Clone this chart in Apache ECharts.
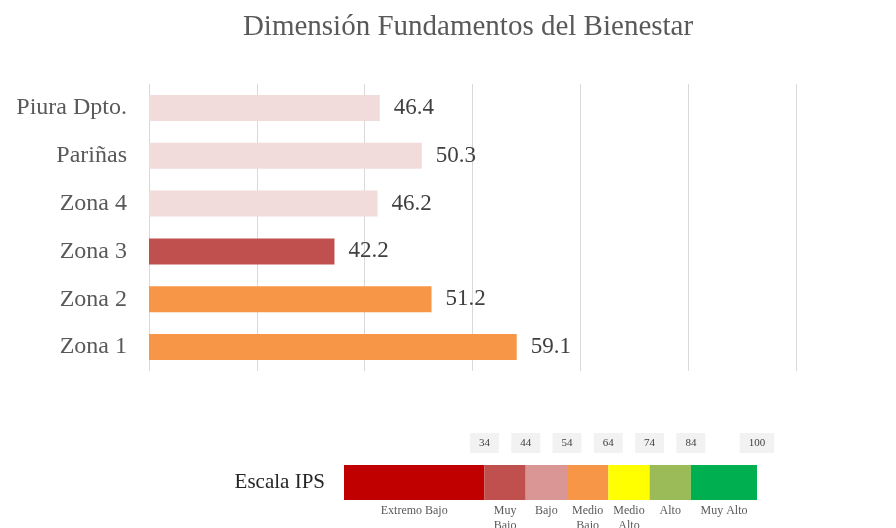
<!DOCTYPE html>
<html>
<head>
<meta charset="utf-8">
<script src="https://cdn.jsdelivr.net/npm/echarts@6.0.0/dist/echarts.min.js"></script>
<style>
  html, body { margin: 0; padding: 0; background: #fff; }
  #main { width: 896px; height: 528px; }
</style>
</head>
<body>
<div id="main"></div>
<script>
var chart = echarts.init(document.getElementById('main'));

var serif = "'Times New Roman', 'Liberation Serif', serif";

// main bars, top to bottom
var categories = ['Piura Dpto.', 'Pariñas', 'Zona 4', 'Zona 3', 'Zona 2', 'Zona 1'];
var values = [46.4, 50.3, 46.2, 42.2, 51.2, 59.1];
var barColors = ['#F2DCDB', '#F2DCDB', '#F2DCDB', '#C0504D', '#F79646', '#F79646'];

// IPS scale
var levelNames = ['Extremo Bajo', 'Muy\nBajo', 'Bajo', 'Medio\nBajo', 'Medio\nAlto', 'Alto', 'Muy Alto'];
var levelBounds = [0, 34, 44, 54, 64, 74, 84, 100];
var levelColors = ['#C00000', '#C0504D', '#DA9694', '#F79646', '#FFFF00', '#9BBB59', '#00B050'];
var scaleTicks = [34, 44, 54, 64, 74, 84, 100];

var scaleSeries = levelNames.map(function (name, i) {
  return {
    type: 'bar',
    name: name,
    xAxisIndex: 2,
    yAxisIndex: 1,
    stack: 'scale',
    barWidth: 35,
    itemStyle: { color: levelColors[i] },
    label: {
      show: true,
      position: 'bottom',
      distance: 3,
      formatter: name,
      fontFamily: serif,
      fontSize: 12,
      lineHeight: 15,
      color: '#595959'
    },
    data: [levelBounds[i + 1] - levelBounds[i]]
  };
});

var option = {
  animation: false,
  title: {
    text: 'Dimensión Fundamentos del Bienestar',
    left: 463,
    textAlign: 'center',
    top: 8,
    textStyle: { fontFamily: serif, fontSize: 29, fontWeight: 'normal', color: '#595959' }
  },
  grid: [
    { left: 149, width: 647, top: 84, height: 287 },
    { left: 344, width: 413, top: 465, height: 35 }
  ],
  xAxis: [
    { gridIndex: 0, type: 'value', min: 25, max: 85, show: false },
    {
      gridIndex: 0, type: 'value', min: 0, max: 60, interval: 10,
      axisLine: { show: false }, axisTick: { show: false }, axisLabel: { show: false },
      splitLine: { show: true, lineStyle: { color: '#D9D9D9', width: 1 } }
    },
    {
      gridIndex: 1, type: 'value', min: 0, max: 100, position: 'top',
      axisLine: { show: false }, axisTick: { show: false }, splitLine: { show: false },
      axisLabel: {
        customValues: scaleTicks,
        margin: 12,
        fontFamily: serif,
        fontSize: 11,
        color: '#404040',
        backgroundColor: '#F2F2F2',
        padding: [5, 9, 4, 9]
      }
    }
  ],
  yAxis: [
    {
      gridIndex: 0, type: 'category', data: categories, inverse: true,
      axisLine: { show: false }, axisTick: { show: false },
      axisLabel: { margin: 22, fontFamily: serif, fontSize: 24, color: '#595959' }
    },
    {
      gridIndex: 1, type: 'category', data: ['Escala IPS'],
      axisLine: { show: false }, axisTick: { show: false },
      axisLabel: { margin: 19, fontFamily: serif, fontSize: 21, color: '#262626', padding: [14, 0, 0, 0] }
    }
  ],
  series: [
    {
      type: 'bar',
      xAxisIndex: 0,
      yAxisIndex: 0,
      barWidth: 26,
      data: values.map(function (v, i) {
        return { value: v, itemStyle: { color: barColors[i] } };
      }),
      label: {
        show: true,
        position: 'right',
        distance: 14,
        fontFamily: serif,
        fontSize: 23,
        color: '#404040'
      }
    }
  ].concat(scaleSeries)
};

chart.setOption(option);
</script>
</body>
</html>
